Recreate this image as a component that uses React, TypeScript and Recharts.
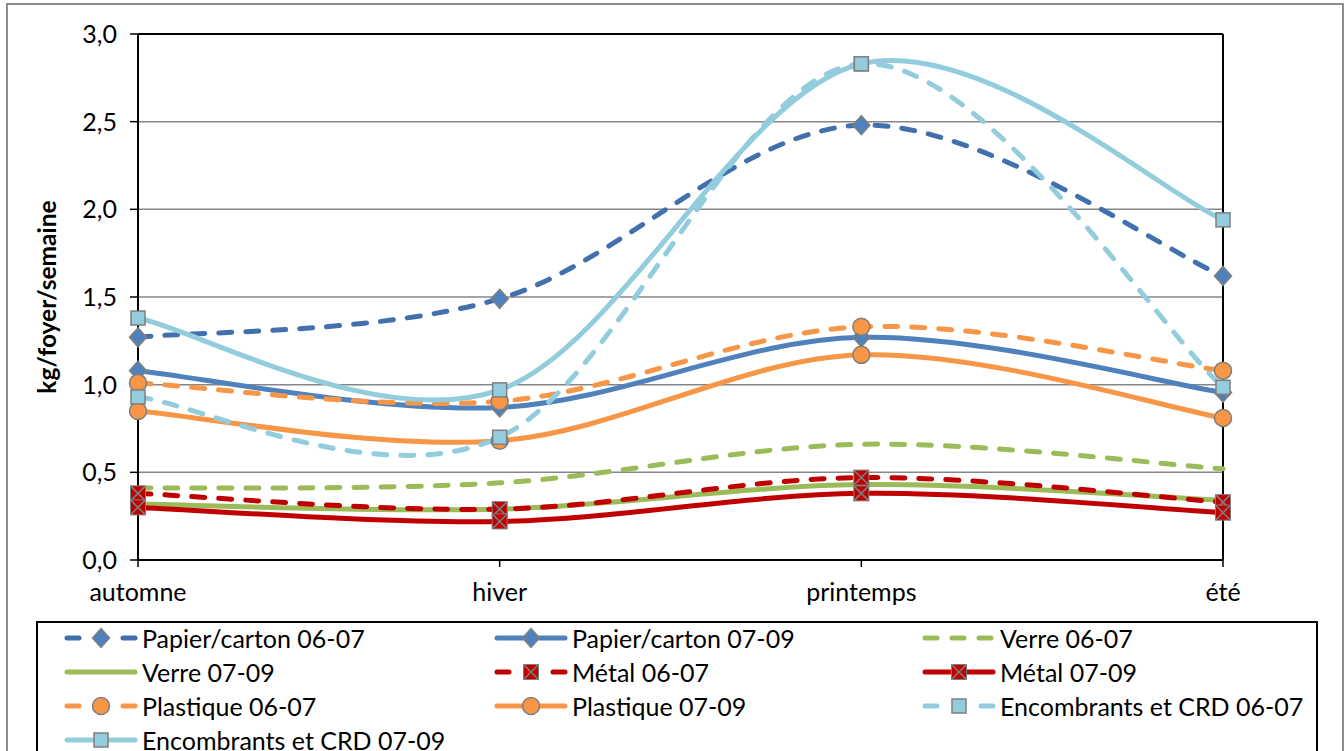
import { LineChart, Line, XAxis, YAxis, CartesianGrid, Legend, ReferenceLine, Label } from 'recharts';

const seasons = ['automne', 'hiver', 'printemps', 'été'];
const yTicks = [0, 0.5, 1, 1.5, 2, 2.5, 3];

const papier0607 = [1.27, 1.49, 2.48, 1.62];
const papier0709 = [1.08, 0.87, 1.27, 0.955];
const verre0607 = [0.41, 0.44, 0.66, 0.52];
const verre0709 = [0.32, 0.29, 0.43, 0.34];
const metal0607 = [0.38, 0.29, 0.47, 0.33];
const metal0709 = [0.3, 0.22, 0.38, 0.27];
const plastique0607 = [1.01, 0.905, 1.33, 1.08];
const plastique0709 = [0.85, 0.68, 1.17, 0.81];
const encombrants0607 = [0.93, 0.7, 2.83, 0.985];
const encombrants0709 = [1.38, 0.97, 2.83, 1.94];

const FONT = 'Lato, "Open Sans", sans-serif';
const EDGE = '#7f7f7f';

const series = [
    { key: 'p0607', name: 'Papier/carton 06-07', values: papier0607, color: '#4170ac', dashed: true, marker: 'diamond', fill: '#4f81bd' },
    { key: 'p0709', name: 'Papier/carton 07-09', values: papier0709, color: '#4f81bd', dashed: false, marker: 'diamond', fill: '#4f81bd' },
    { key: 'v0607', name: 'Verre 06-07', values: verre0607, color: '#9bbb59', dashed: true, marker: 'none', fill: '' },
    { key: 'v0709', name: 'Verre 07-09', values: verre0709, color: '#9bbb59', dashed: false, marker: 'none', fill: '' },
    { key: 'm0607', name: 'Métal 06-07', values: metal0607, color: '#c00000', dashed: true, marker: 'cross', fill: '#c00000' },
    { key: 'm0709', name: 'Métal 07-09', values: metal0709, color: '#c00000', dashed: false, marker: 'cross', fill: '#c00000' },
    { key: 'pl0607', name: 'Plastique 06-07', values: plastique0607, color: '#f79646', dashed: true, marker: 'circle', fill: '#f79646' },
    { key: 'pl0709', name: 'Plastique 07-09', values: plastique0709, color: '#f79646', dashed: false, marker: 'circle', fill: '#f79646' },
    { key: 'e0607', name: 'Encombrants et CRD 06-07', values: encombrants0607, color: '#93cddd', dashed: true, marker: 'square', fill: '#93cddd' },
    { key: 'e0709', name: 'Encombrants et CRD 07-09', values: encombrants0709, color: '#93cddd', dashed: false, marker: 'square', fill: '#93cddd' },
];

const data = seasons.map((season, i) => {
    const row: Record<string, string | number> = { season };
    series.forEach((s) => { row[s.key] = s.values[i]; });
    return row;
});

// excel style smoothing (catmull-rom through every point)
const excelCurve = (context: any) => {
    let pts: number[][] = [];
    return {
        areaStart() {},
        areaEnd() {},
        lineStart() { pts = []; },
        point(x: number, y: number) { pts.push([+x, +y]); },
        lineEnd() {
            if (!pts.length) return;
            context.moveTo(pts[0][0], pts[0][1]);
            for (let i = 0; i < pts.length - 1; i++) {
                const p0 = pts[i - 1] || pts[i];
                const p1 = pts[i];
                const p2 = pts[i + 1];
                const p3 = pts[i + 2] || p2;
                context.bezierCurveTo(
                    p1[0] + (p2[0] - p0[0]) / 6, p1[1] + (p2[1] - p0[1]) / 6,
                    p2[0] - (p3[0] - p1[0]) / 6, p2[1] - (p3[1] - p1[1]) / 6,
                    p2[0], p2[1],
                );
            }
        },
    };
};

const Marker = ({ cx, cy, shape, fill }: { cx: number; cy: number; shape: string; fill: string }) => {
    if (shape === 'diamond') {
        return <polygon points={`${cx},${cy - 9.5} ${cx + 8.5},${cy} ${cx},${cy + 9.5} ${cx - 8.5},${cy}`} fill={fill} stroke={EDGE} strokeWidth={1.5} />;
    }
    if (shape === 'circle') {
        return <circle cx={cx} cy={cy} r={8.5} fill={fill} stroke={EDGE} strokeWidth={1.5} />;
    }
    if (shape === 'square') {
        return <rect x={cx - 7} y={cy - 7} width={14} height={14} fill={fill} stroke={EDGE} strokeWidth={1.5} />;
    }
    if (shape === 'cross') {
        return (
            <g>
                <rect x={cx - 7.5} y={cy - 7.5} width={15} height={15} fill={fill} stroke={EDGE} strokeWidth={1} />
                <path d={`M${cx - 7},${cy - 7}L${cx + 7},${cy + 7}M${cx + 7},${cy - 7}L${cx - 7},${cy + 7}`} stroke={EDGE} strokeWidth={1.5} />
            </g>
        );
    }
    return null;
};

const dotFor = (s: typeof series[number]) => {
    if (s.marker === 'none') return false;
    return (props: any) => (
        <g key={`${s.key}-${props.index}`}>
            <Marker cx={props.cx} cy={props.cy} shape={s.marker} fill={s.fill} />
        </g>
    );
};

const legendCols = [26, 456, 884];

const LegendBox = () => (
    <div style={{ position: 'relative', width: '100%', height: '100%', fontFamily: FONT, fontSize: 25, color: '#000' }}>
        {series.map((s, k) => {
            const left = legendCols[k % 3];
            const top = 15 + 34 * Math.floor(k / 3);
            return (
                <div key={s.key} style={{ position: 'absolute', left, top: top - 16, height: 32, display: 'flex', alignItems: 'center', whiteSpace: 'nowrap' }}>
                    <svg width={74} height={32} style={{ display: 'block' }}>
                        {s.dashed ? (
                            <line x1={3} y1={16} x2={71} y2={16} stroke={s.color} strokeWidth={5} strokeLinecap="round" strokeDasharray={s.marker === 'none' ? '12 15' : '12 44'} />
                        ) : (
                            <line x1={3} y1={16} x2={71} y2={16} stroke={s.color} strokeWidth={5} strokeLinecap="round" />
                        )}
                        <Marker cx={37} cy={16} shape={s.marker} fill={s.fill} />
                    </svg>
                    <span style={{ marginLeft: 4, lineHeight: '32px' }}>{s.name}</span>
                </div>
            );
        })}
    </div>
);

const App = () => {
    return (
        <div style={{ position: 'absolute', left: 0, top: 0, width: 1344, height: 751, overflow: 'hidden', background: '#fff' }}>
            <div style={{ position: 'absolute', left: 6, top: 3, width: 1334, height: 800, border: '2px solid #8c8c8c' }} />
            <div style={{ position: 'absolute', left: 0, top: 0 }}>
                <LineChart width={1344} height={751} data={data} margin={{ top: 34, right: 121, bottom: 161, left: 0 }}>
                    <CartesianGrid vertical={false} stroke="#868686" strokeWidth={1.5} />
                    <XAxis
                        dataKey="season"
                        height={30}
                        axisLine={{ stroke: '#000', strokeWidth: 2 }}
                        tickLine={{ stroke: '#000', strokeWidth: 1.5 }}
                        tickSize={7}
                        tickMargin={16}
                        tick={{ fill: '#000', fontSize: 25, fontFamily: FONT }}
                        interval={0}
                    />
                    <YAxis
                        domain={[0, 3]}
                        ticks={yTicks}
                        width={138}
                        axisLine={{ stroke: '#000', strokeWidth: 2 }}
                        tickLine={{ stroke: '#000', strokeWidth: 1.5 }}
                        tickSize={8}
                        tickMargin={13}
                        tick={{ fill: '#000', fontSize: 25, fontFamily: FONT }}
                        tickFormatter={(v: number) => v.toFixed(1).replace('.', ',')}
                    >
                        <Label
                            content={({ viewBox }: any) => {
                                const cy = viewBox.y + viewBox.height / 2;
                                return (
                                    <text x={46} y={cy} transform={`rotate(-90, 46, ${cy})`} textAnchor="middle" dominantBaseline="central" fontFamily={FONT} fontWeight="bold" fontSize={24.5} fill="#000">
                                        kg/foyer/semaine
                                    </text>
                                );
                            }}
                        />
                    </YAxis>
                    <ReferenceLine y={3} stroke="#000" strokeWidth={2} />
                    <ReferenceLine x="été" stroke="#000" strokeWidth={2} />
                    {series.map((s) => (
                        <Line
                            key={s.key}
                            dataKey={s.key}
                            name={s.name}
                            type={excelCurve as any}
                            stroke={s.color}
                            strokeWidth={5}
                            strokeLinecap="round"
                            strokeDasharray={s.dashed ? '13 14' : undefined}
                            dot={dotFor(s) as any}
                            activeDot={false}
                            isAnimationActive={false}
                        />
                    ))}
                    <Legend
                        verticalAlign="middle"
                        layout="horizontal"
                        wrapperStyle={{ left: 36, top: 621, width: 1282, height: 140, border: '2px solid #000', background: '#fff', boxSizing: 'border-box' }}
                        content={() => <LegendBox />}
                    />
                </LineChart>
            </div>
        </div>
    );
};

export default App;
